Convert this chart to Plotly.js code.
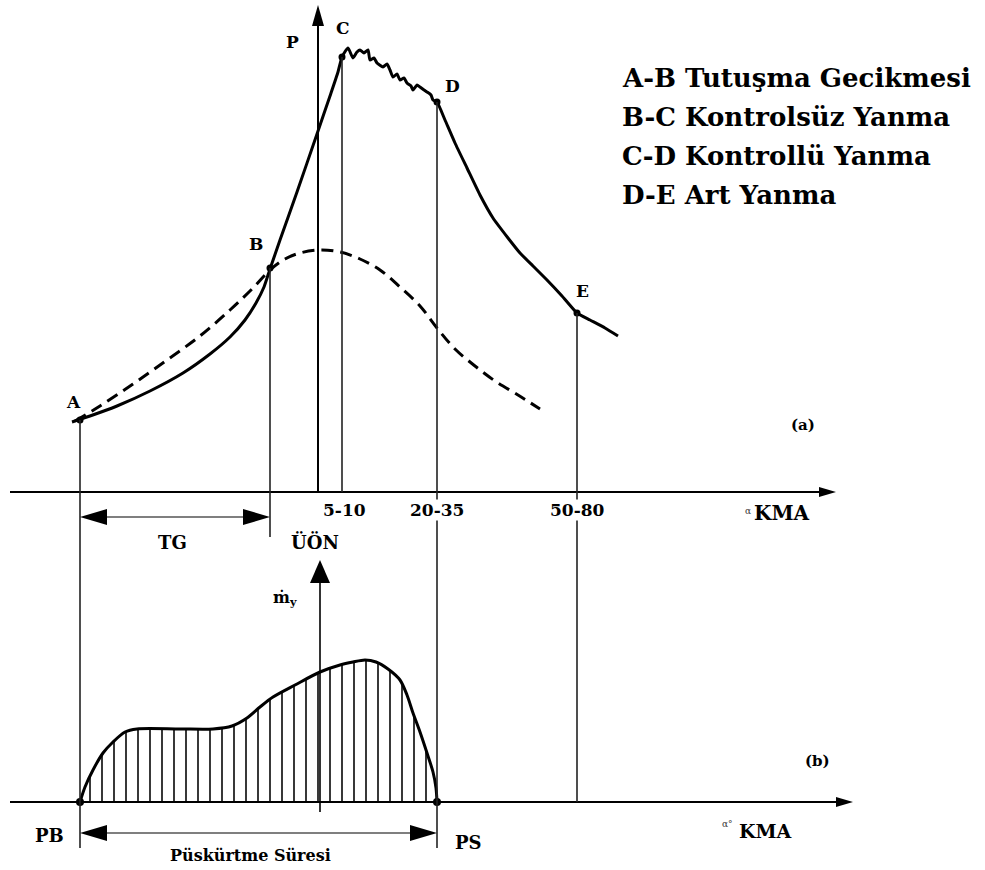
<!DOCTYPE html>
<html><head><meta charset="utf-8">
<script src="https://cdn.plot.ly/plotly-3.0.1.min.js"></script>
<style>html,body{margin:0;padding:0;background:#fff;}#chart{width:985px;height:870px;}</style>
</head><body><div id="chart"></div>
<script>
// ---------- values ----------
// x: horizontal position (crank angle, schematic units); y: height above the panel's own axis
const pointNames = ['A', 'B', 'C', 'D', 'E'];
const pointX = [80, 270, 342, 437, 577];
const pointY = [72, 224, 435, 390, 179];

// (a) cylinder pressure with combustion (solid)
const pressureX = [72, 90, 117, 150, 183, 210, 230, 245, 256, 264, 270, 280, 297, 317, 330, 338, 342, 348, 353, 357, 360, 364, 368, 370, 374, 377, 383, 387, 390, 393, 397, 400, 404, 407, 411, 413, 417, 420, 424, 427, 431, 433, 437, 445, 455, 467, 480, 493, 508, 520, 533, 547, 562, 577, 590, 605, 618];
const pressureY = [70, 76, 86, 101, 119, 138, 155, 172, 189, 205, 223, 252, 300, 358, 396, 420, 435, 444, 434, 440, 442, 439, 442, 432, 434, 429, 425, 428, 422, 415, 418, 412, 414, 409, 406, 402, 407, 405, 402, 400, 397, 392, 390, 372, 349, 324, 297, 274, 254, 239, 226, 212, 196, 179, 172, 164, 156];

// (a) motoring pressure without combustion (dashed)
const motoringX = [75, 100, 133, 167, 200, 230, 252, 270, 285, 300, 320, 340, 360, 380, 400, 420, 437, 455, 475, 495, 518, 540];
const motoringY = [71, 86, 108, 132, 156, 182, 203, 222, 233, 239, 242, 240, 233, 222, 205, 186, 164, 143, 126, 111, 97, 83];

// (b) injection rate
const injectionX = [80, 85, 93, 103, 113, 125, 137, 180, 213, 232, 247, 260, 273, 295, 320, 340, 353, 365, 376, 388, 400, 407, 413, 420, 427, 433, 436, 437];
const injectionY = [0, 15, 32, 49, 60, 70, 73, 73, 73, 76, 84, 95, 105, 117, 130, 137, 140, 142, 140, 133, 122, 107, 89, 70, 49, 30, 14, 0];

// axis tick labels (a)
const tickX = [344, 437, 577];
const tickText = ['5-10', '20-35', '50-80'];

// phase list
const phaseLabels = ['A-B Tutuşma Gecikmesi', 'B-C Kontrolsüz Yanma', 'C-D Kontrollü Yanma', 'D-E Art Yanma'];

// ---------- layout geometry ----------
const W = 985, H = 870;
const TOP_BASE = 492;   // pixel row of axis (a)
const BOT_BASE = 802;   // pixel row of axis (b)
const guideEnd = [-356, -45, 0, -356, -310]; // where each point's guide stops (relative to axis a)

const SERIF = 'DejaVu Serif';
const BLACK = '#000';

function head(tx, ty, dir, len, hw, yref) {
  let p;
  if (dir === 'r') p = `M${tx},${ty} L${tx - len},${ty + hw} L${tx - len},${ty - hw} Z`;
  else if (dir === 'l') p = `M${tx},${ty} L${tx + len},${ty + hw} L${tx + len},${ty - hw} Z`;
  else p = `M${tx},${ty} L${tx - hw},${ty - len} L${tx + hw},${ty - len} Z`;
  return { type: 'path', path: p, xref: 'x', yref: yref, fillcolor: BLACK, line: { width: 0 } };
}
function seg(x0, y0, x1, y1, yref, w, c) {
  return { type: 'line', x0, y0, x1, y1, xref: 'x', yref, line: { color: c || BLACK, width: w } };
}

const shapes = [];
// axis (a)
shapes.push(seg(10, 0, 822, 0, 'y', 2));
shapes.push(head(836, 0, 'r', 17, 5, 'y'));
shapes.push(seg(318, 0, 318, 468, 'y', 2));
shapes.push(head(318, 487, 'u', 21, 6, 'y'));
// axis (b)
shapes.push(seg(10, 0, 838, 0, 'y2', 2));
shapes.push(head(853, 0, 'r', 17, 5, 'y2'));
shapes.push(seg(320, -10, 320, 222, 'y2', 1.6));
shapes.push(head(320, 242, 'u', 23, 10, 'y2'));
// guides from each point
pointX.forEach((x, i) => shapes.push(seg(x, pointY[i], x, guideEnd[i], 'y', 1.6, '#222')));
// TG dimension
shapes.push(seg(100, -25, 250, -25, 'y', 1.2));
shapes.push(head(pointX[0], -25, 'l', 27, 8, 'y'));
shapes.push(head(pointX[1], -25, 'r', 27, 8, 'y'));
// injection duration dimension
const injStart = injectionX[0], injEnd = injectionX[injectionX.length - 1];
shapes.push(seg(injStart + 20, -31, injEnd - 20, -31, 'y2', 1.2));
shapes.push(head(injStart, -31, 'l', 27, 8, 'y2'));
shapes.push(head(injEnd, -31, 'r', 27, 8, 'y2'));

const traces = [
  {
    x: injectionX, y: injectionY, yaxis: 'y2', mode: 'lines', type: 'scatter',
    line: { color: BLACK, width: 3, shape: 'spline', smoothing: 0.8 },
    fill: 'tozeroy', fillcolor: 'rgba(0,0,0,0)',
    fillpattern: { shape: '|', size: 12, solidity: 0.13, fgcolor: BLACK, bgcolor: 'rgba(0,0,0,0)' },
    hoverinfo: 'skip'
  },
  {
    x: [injStart, injEnd], y: [0, 0], yaxis: 'y2', mode: 'markers', type: 'scatter',
    marker: { color: BLACK, size: 8 }, hoverinfo: 'skip'
  },
  {
    x: motoringX, y: motoringY, mode: 'lines', type: 'scatter',
    line: { color: BLACK, width: 3, dash: '12px,7px', shape: 'spline', smoothing: 1 }, hoverinfo: 'skip'
  },
  {
    x: pressureX, y: pressureY, mode: 'lines', type: 'scatter',
    line: { color: BLACK, width: 3, shape: 'spline', smoothing: 0.5 }, hoverinfo: 'skip'
  },
  {
    x: pointX, y: pointY, mode: 'markers', type: 'scatter',
    marker: { color: BLACK, size: 7 }, hoverinfo: 'skip'
  }
];

const ann = [];
function txt(text, x, y, yref, size, opts) {
  ann.push(Object.assign({
    text, x, y, xref: 'x', yref, showarrow: false,
    font: { family: SERIF, size, color: BLACK, weight: 'bold' }
  }, opts || {}));
}
const labelDX = [-7, -14, 1, 15, 5], labelDY = [18, 24, 29, 16, 22];
pointNames.forEach((n, i) => txt(n, pointX[i] + labelDX[i], pointY[i] + labelDY[i], 'y', 17));
txt('P', 292, 450, 'y', 17);
tickText.forEach((t, i) => txt(t, tickX[i], -18, 'y', 17, { bgcolor: '#fff', borderpad: 0 }));
txt('KMA', 782, -21, 'y', 20);
txt('α', 748, -19, 'y', 9, { font: { family: SERIF, size: 9, color: '#333' } });
txt('TG', 172, -50, 'y', 18);
txt('ÜÖN', 315, -50, 'y', 18);
txt('(a)', 803, 67, 'y', 15);
phaseLabels.forEach((t, i) => txt(t, 620, 414 - i * 39, 'y', 26, { xanchor: 'left' }));

txt('ṁ<sub>y</sub>', 285, 204, 'y2', 16);
txt('(b)', 817, 41, 'y2', 15);
txt('KMA', 765, -29, 'y2', 19);
txt('α°', 727, -22, 'y2', 9, { font: { family: SERIF, size: 9, color: '#333' } });
txt('PB', 49, -33, 'y2', 18);
txt('PS', 468, -40, 'y2', 18);
txt('Püskürtme Süresi', 250, -53, 'y2', 16);

const hidden = { visible: false, fixedrange: true };
const layout = {
  width: W, height: H, autosize: false,
  margin: { l: 0, r: 0, t: 0, b: 0, pad: 0 },
  paper_bgcolor: '#fff', plot_bgcolor: '#fff',
  showlegend: false,
  xaxis: Object.assign({ range: [0, W] }, hidden),
  yaxis: Object.assign({ range: [TOP_BASE - H, TOP_BASE] }, hidden),
  yaxis2: Object.assign({ range: [BOT_BASE - H, BOT_BASE], overlaying: 'y' }, hidden),
  shapes, annotations: ann
};
Plotly.newPlot('chart', traces, layout, { staticPlot: true, displayModeBar: false });
</script></body></html>
